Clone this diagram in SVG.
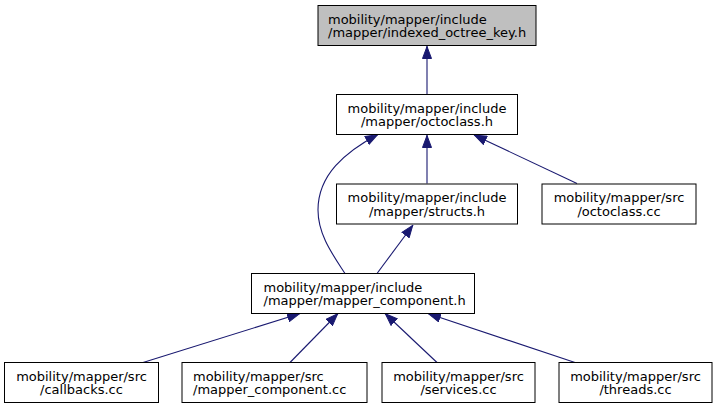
<svg xmlns="http://www.w3.org/2000/svg" width="717" height="409" viewBox="0 0 717 409">
<style>
.box{fill:#ffffff;stroke:#000000;stroke-width:1}
.root{fill:#bfbfbf}
text{font-family:"DejaVu Sans","Liberation Sans",sans-serif;font-size:13px;fill:#000000}
.c{text-anchor:middle}
.e{fill:none;stroke:#191970;stroke-width:1.1}
</style>
<defs>
<marker id="ah" viewBox="0 0 13 10" refX="13" refY="5" markerWidth="13" markerHeight="10" markerUnits="userSpaceOnUse" orient="auto">
<path d="M0.5,0.5 L12.5,5 L0.5,9.5 Z" fill="#191970" stroke="#191970" stroke-width="1"/>
</marker>
</defs>
<rect width="717" height="409" fill="#ffffff"/>
<g id="edges">
<path class="e" d="M427,94.5 L427,46" marker-end="url(#ah)"/>
<path class="e" d="M427,183.5 L427,135" marker-end="url(#ah)"/>
<path class="e" d="M577,183.5 L474,135" marker-end="url(#ah)"/>
<path class="e" d="M345,273.5 C333,255 318,235 318,210 C318,175 345,152 378,134.5" marker-end="url(#ah)"/>
<path class="e" d="M377,273.5 L413,225" marker-end="url(#ah)"/>
<path class="e" d="M143,362.5 L300,313.5" marker-end="url(#ah)"/>
<path class="e" d="M290,362.5 L338,313.5" marker-end="url(#ah)"/>
<path class="e" d="M437,362.5 L385,313.5" marker-end="url(#ah)"/>
<path class="e" d="M575,362.5 L428,313.5" marker-end="url(#ah)"/>
</g>
<g id="node1">
<rect class="box root" x="318" y="5.5" width="218" height="40"/>
<text x="328" y="23.5"><tspan x="328">mobility/mapper/include</tspan><tspan x="328" dy="13.5">/mapper/indexed_octree_key.h</tspan></text>
</g>
<g id="node2">
<rect class="box" x="336.5" y="94.5" width="181" height="40"/>
<text class="c" x="427" y="112.5"><tspan x="427">mobility/mapper/include</tspan><tspan x="427" dy="13.5">/mapper/octoclass.h</tspan></text>
</g>
<g id="node3">
<rect class="box" x="336.5" y="184" width="181" height="40"/>
<text class="c" x="427" y="202"><tspan x="427">mobility/mapper/include</tspan><tspan x="427" dy="13.5">/mapper/structs.h</tspan></text>
</g>
<g id="node4">
<rect class="box" x="542" y="184" width="154" height="40"/>
<text class="c" x="619" y="202"><tspan x="619">mobility/mapper/src</tspan><tspan x="619" dy="13.5">/octoclass.cc</tspan></text>
</g>
<g id="node5">
<rect class="box" x="251.5" y="273.5" width="223" height="40"/>
<text x="263.5" y="291.5"><tspan x="263.5">mobility/mapper/include</tspan><tspan x="263.5" dy="13.5">/mapper/mapper_component.h</tspan></text>
</g>
<g id="node6">
<rect class="box" x="4.5" y="362.5" width="154" height="40"/>
<text class="c" x="81.5" y="380.5"><tspan x="81.5">mobility/mapper/src</tspan><tspan x="81.5" dy="13.5">/callbacks.cc</tspan></text>
</g>
<g id="node7">
<rect class="box" x="182" y="362.5" width="185" height="40"/>
<text x="193" y="380.5"><tspan x="193">mobility/mapper/src</tspan><tspan x="193" dy="13.5">/mapper_component.cc</tspan></text>
</g>
<g id="node8">
<rect class="box" x="382" y="362.5" width="153" height="40"/>
<text class="c" x="458.5" y="380.5"><tspan x="458.5">mobility/mapper/src</tspan><tspan x="458.5" dy="13.5">/services.cc</tspan></text>
</g>
<g id="node9">
<rect class="box" x="559" y="362.5" width="153" height="40"/>
<text class="c" x="635.5" y="380.5"><tspan x="635.5">mobility/mapper/src</tspan><tspan x="635.5" dy="13.5">/threads.cc</tspan></text>
</g>
</svg>
